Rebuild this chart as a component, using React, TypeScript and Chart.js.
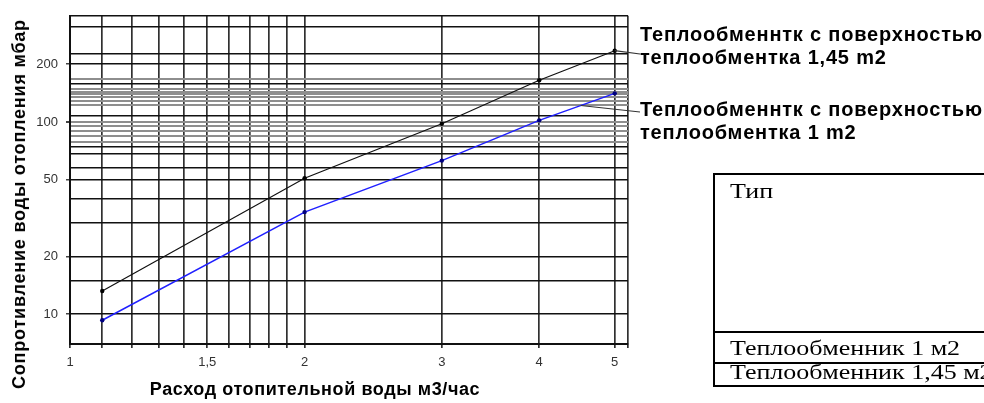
import { useEffect, useRef } from "react";
import { Chart, registerables } from "chart.js";

Chart.register(...registerables);

// flow of heating water, m3/h
const flow = [1.1, 2, 3, 4, 5];
// pressure drop, mbar
const drop145 = [13.2, 51, 98, 165, 235];
const drop100 = [9.3, 34, 63, 102, 141];

const xGrid = [1, 1.1, 1.2, 1.3, 1.4, 1.5, 1.6, 1.7, 1.8, 1.9, 2, 3, 4, 5, 5.2];
const xLabelValues = [1, 1.5, 2, 3, 4, 5];
const xLabelTexts = ["1", "1,5", "2", "3", "4", "5"];

const yGridDark = [7, 10, 15, 20, 30, 40, 50, 58, 68, 74, 108, 159, 200, 226, 314, 357];
const yGridGrey = [79, 85, 90, 95, 100, 123, 129, 135, 140, 144, 148, 167];
const yLabelValues = [10, 20, 50, 100, 200];
const yLabelTexts = ["10", "20", "50", "100", "200"];

const SANS = "'Liberation Sans', Arial, sans-serif";
const SERIF = "'Liberation Serif', 'Times New Roman', serif";

const leaderPlugin = {
  id: "leaders",
  afterDatasetsDraw(chart: Chart) {
    const { ctx, chartArea } = chart;
    const big = chart.getDatasetMeta(0).data;
    const small = chart.getDatasetMeta(1).data;
    if (!big.length || !small.length) return;
    const p1 = big[4];
    const a = small[3];
    const b = small[4];
    const t = 0.55;
    const s2x = a.x + (b.x - a.x) * t;
    const s2y = a.y + (b.y - a.y) * t;
    ctx.save();
    ctx.strokeStyle = "#333";
    ctx.lineWidth = 1.2;
    ctx.beginPath();
    ctx.moveTo(p1.x, p1.y);
    ctx.lineTo(chartArea.right + 12, 54);
    ctx.moveTo(s2x, s2y);
    ctx.lineTo(chartArea.right + 12, 112);
    ctx.stroke();
    ctx.restore();
  },
};

const App = () => {
  const canvasRef = useRef<HTMLCanvasElement>(null);

  useEffect(() => {
    if (!canvasRef.current) return;

    const yTicks = [...yGridDark, ...yGridGrey].sort((a, b) => a - b);

    const chart = new Chart(canvasRef.current, {
      type: "line",
      data: {
        datasets: [
          {
            label: "Теплообменник 1,45 м2",
            data: flow.map((x, i) => ({ x, y: drop145[i] })),
            borderColor: "#111",
            backgroundColor: "#000",
            borderWidth: 1.2,
            pointRadius: 2.2,
            pointBorderWidth: 0,
            tension: 0,
          },
          {
            label: "Теплообменник 1 м2",
            data: flow.map((x, i) => ({ x, y: drop100[i] })),
            borderColor: "#2020ff",
            backgroundColor: "#000080",
            borderWidth: 1.5,
            pointRadius: 2.2,
            pointBorderWidth: 0,
            tension: 0,
          },
        ],
      },
      options: {
        responsive: false,
        animation: false,
        layout: { padding: { left: 0, top: 7, right: 356, bottom: 0 } },
        plugins: {
          legend: { display: false },
          tooltip: { enabled: false },
        },
        scales: {
          x: {
            type: "logarithmic",
            min: 1,
            max: 5.2,
            afterBuildTicks: (scale) => {
              scale.ticks = xGrid.map((v) => ({ value: v }));
            },
            afterFit: (scale) => {
              scale.height = 59;
            },
            ticks: {
              autoSkip: false,
              maxRotation: 0,
              padding: 7,
              color: "#333",
              font: { family: SANS, size: 13 },
              callback: (value) => {
                const i = xLabelValues.indexOf(Number(value));
                return i >= 0 ? xLabelTexts[i] : "";
              },
            },
            grid: {
              color: "rgba(25,25,25,0.9)",
              lineWidth: 1.7,
              tickLength: 4,
            },
            border: { display: true, color: "#111", width: 2 },
          },
          y: {
            type: "logarithmic",
            min: 7,
            max: 357,
            afterBuildTicks: (scale) => {
              scale.ticks = yTicks.map((v) => ({ value: v }));
            },
            afterFit: (scale) => {
              scale.width = 70;
            },
            ticks: {
              autoSkip: false,
              padding: 8,
              color: "#333",
              font: { family: SANS, size: 13 },
              callback: (value) => {
                const i = yLabelValues.indexOf(Number(value));
                return i >= 0 ? yLabelTexts[i] : "";
              },
            },
            grid: {
              color: (c) =>
                c.tick && yGridGrey.includes(c.tick.value) ? "#8e8e8e" : "#111",
              lineWidth: (c) =>
                c.tick && yGridGrey.includes(c.tick.value) ? 2 : 1.5,
              tickColor: (c) =>
                c.tick && yLabelValues.includes(c.tick.value) ? "#444" : "rgba(0,0,0,0)",
              tickLength: 4,
            },
            border: { display: true, color: "#111", width: 2 },
          },
        },
      },
      plugins: [leaderPlugin],
    });

    return () => {
      chart.destroy();
    };
  }, []);

  return (
    <div
      style={{
        position: "fixed",
        left: 0,
        top: 0,
        width: 984,
        height: 403,
        overflow: "hidden",
        background: "#fff",
        fontFamily: SANS,
      }}
    >
      <canvas
        ref={canvasRef}
        width={984}
        height={403}
        style={{ position: "absolute", left: 0, top: 0 }}
        role="img"
        aria-label="Сопротивление воды отопления теплообменников"
      />

      {/* axis titles */}
      <div
        style={{
          position: "absolute",
          left: 18.5,
          top: 204,
          transform: "translate(-50%, -50%) rotate(-90deg)",
          whiteSpace: "nowrap",
          fontWeight: "bold",
          fontSize: 18,
          lineHeight: "18px",
          letterSpacing: "0.8px",
          color: "#000",
        }}
      >
        Сопротивление воды отопления мбар
      </div>
      <div
        style={{
          position: "absolute",
          left: 315,
          top: 388.5,
          transform: "translate(-50%, -50%)",
          whiteSpace: "nowrap",
          fontWeight: "bold",
          fontSize: 18,
          lineHeight: "18px",
          letterSpacing: "0.6px",
          color: "#000",
        }}
      >
        Расход отопительной воды м3/час
      </div>

      {/* series annotations */}
      {[
        { lines: ["Теплообменнтк с поверхностью", "теплообментка 1,45 m2"], top: 23 },
        { lines: ["Теплообменнтк с поверхностью", "теплообментка 1 m2"], top: 98 },
      ].map((n) => (
        <div
          key={n.top}
          style={{
            position: "absolute",
            left: 640,
            top: n.top,
            whiteSpace: "nowrap",
            fontWeight: "bold",
            fontSize: 20,
            lineHeight: "23px",
            letterSpacing: "0.8px",
            color: "#000",
          }}
        >
          {n.lines[0]}
          <br />
          {n.lines[1]}
        </div>
      ))}

      {/* table */}
      <div
        style={{
          position: "absolute",
          left: 713,
          top: 173,
          width: 400,
          height: 214,
          border: "2px solid #000",
          boxSizing: "border-box",
        }}
      />
      <div style={{ position: "absolute", left: 713, top: 331, width: 400, height: 2, background: "#000" }} />
      <div style={{ position: "absolute", left: 713, top: 362, width: 400, height: 2, background: "#000" }} />
      {[
        { text: "Тип", top: 181 },
        { text: "Теплообменник 1 м2", top: 338 },
        { text: "Теплообменник 1,45 м2", top: 362 },
      ].map((r) => (
        <div
          key={r.text}
          style={{
            position: "absolute",
            left: 730,
            top: r.top,
            whiteSpace: "nowrap",
            fontFamily: SERIF,
            fontSize: 20,
            lineHeight: "20px",
            color: "#000",
            transform: "scaleX(1.3)",
            transformOrigin: "left top",
          }}
        >
          {r.text}
        </div>
      ))}
    </div>
  );
};

export default App;
